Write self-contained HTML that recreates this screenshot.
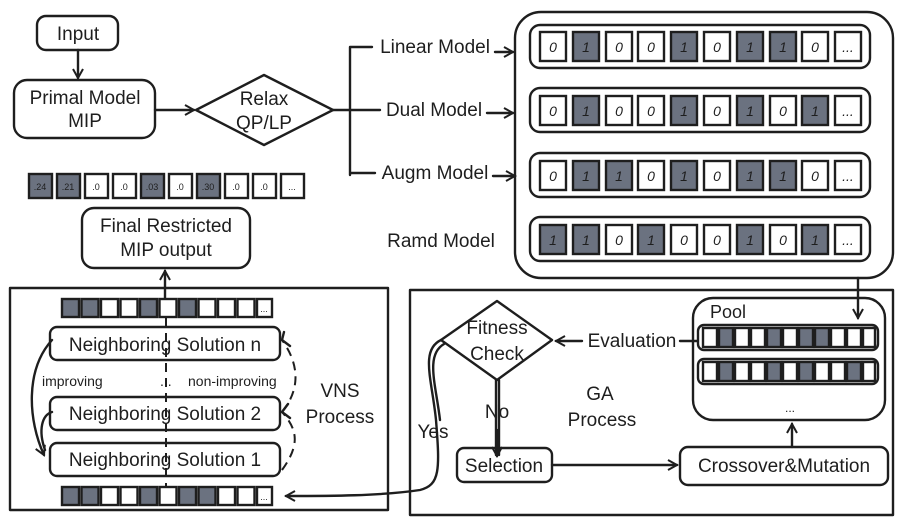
<!DOCTYPE html>
<html><head><meta charset="utf-8"><style>
html,body{margin:0;padding:0;background:#fff;}
svg{display:block;font-family:"Liberation Sans","DejaVu Sans",sans-serif;}
.s{fill:none;stroke:#1e1e1e;stroke-width:2.4;stroke-linecap:round;stroke-linejoin:round;}
.w{fill:#fff;stroke:#1e1e1e;stroke-width:2.4;}
.d{fill:#6b7280;stroke:#1e1e1e;stroke-width:2.4;}
text{fill:#1e1e1e;}
.t{font-size:19px;text-anchor:middle;}
.c{font-size:14px;text-anchor:middle;font-style:italic;}
.m{font-size:9px;text-anchor:middle;}
</style></head><body>
<svg width="904" height="525" viewBox="0 0 904 525" xmlns="http://www.w3.org/2000/svg">
<defs><marker id="a" markerWidth="12" markerHeight="12" refX="10" refY="6" orient="auto" markerUnits="userSpaceOnUse"><path d="M1,1 L10,6 L1,11" fill="none" stroke="#1e1e1e" stroke-width="2"/></marker></defs>

<!-- top left flow -->
<rect class="s" x="37" y="16" width="81" height="34" rx="9"/>
<text class="t" x="78" y="40">Input</text>
<line class="s" x1="78" y1="50" x2="78" y2="78" marker-end="url(#a)"/>
<rect class="s" x="14" y="80" width="141" height="58" rx="13"/>
<text class="t" x="85" y="104">Primal Model</text>
<text class="t" x="85" y="127">MIP</text>
<line class="s" x1="155" y1="110" x2="194" y2="110" marker-end="url(#a)"/>
<path class="s" d="M196,110 L264,75 L333,110 L264,145 Z"/>
<text class="t" x="264" y="105">Relax</text>
<text class="t" x="264" y="129">QP/LP</text>
<path class="s" d="M333,110 H350 M350,47 V175 M350,47 H372 M350,110 H380 M350,173 H375"/>
<text class="t" x="435" y="53">Linear Model</text>
<text class="t" x="434" y="116">Dual Model</text>
<text class="t" x="435" y="179">Augm Model</text>
<text class="t" x="441" y="247">Ramd Model</text>
<line class="s" x1="495" y1="52" x2="513" y2="52" marker-end="url(#a)"/>
<line class="s" x1="487" y1="113" x2="513" y2="113" marker-end="url(#a)"/>
<line class="s" x1="493" y1="176" x2="515" y2="176" marker-end="url(#a)"/>

<!-- big right box -->
<rect class="s" x="515" y="12" width="378" height="266" rx="26"/>
<rect class="s" x="530" y="25" width="340" height="43" rx="10"/>
<rect class="s" x="530" y="88" width="340" height="44" rx="10"/>
<rect class="s" x="530" y="153" width="340" height="44" rx="10"/>
<rect class="s" x="530" y="217" width="340" height="44" rx="10"/>
<g>
<!-- row1 0 1 0 0 1 0 1 1 0 -->
<rect class="w" x="540" y="32" width="26" height="29"/><text class="c" x="553" y="52">0</text>
<rect class="d" x="573" y="32" width="26" height="29"/><text class="c" x="586" y="52">1</text>
<rect class="w" x="606" y="32" width="26" height="29"/><text class="c" x="619" y="52">0</text>
<rect class="w" x="638" y="32" width="26" height="29"/><text class="c" x="651" y="52">0</text>
<rect class="d" x="671" y="32" width="26" height="29"/><text class="c" x="684" y="52">1</text>
<rect class="w" x="704" y="32" width="26" height="29"/><text class="c" x="717" y="52">0</text>
<rect class="d" x="737" y="32" width="26" height="29"/><text class="c" x="750" y="52">1</text>
<rect class="d" x="770" y="32" width="26" height="29"/><text class="c" x="783" y="52">1</text>
<rect class="w" x="802" y="32" width="26" height="29"/><text class="c" x="815" y="52">0</text>
<rect class="w" x="835" y="32" width="26" height="29"/><text class="c" x="848" y="52">...</text>
<!-- row2 0 1 0 0 1 0 1 0 1 -->
<rect class="w" x="540" y="96" width="26" height="29"/><text class="c" x="553" y="116">0</text>
<rect class="d" x="573" y="96" width="26" height="29"/><text class="c" x="586" y="116">1</text>
<rect class="w" x="606" y="96" width="26" height="29"/><text class="c" x="619" y="116">0</text>
<rect class="w" x="638" y="96" width="26" height="29"/><text class="c" x="651" y="116">0</text>
<rect class="d" x="671" y="96" width="26" height="29"/><text class="c" x="684" y="116">1</text>
<rect class="w" x="704" y="96" width="26" height="29"/><text class="c" x="717" y="116">0</text>
<rect class="d" x="737" y="96" width="26" height="29"/><text class="c" x="750" y="116">1</text>
<rect class="w" x="770" y="96" width="26" height="29"/><text class="c" x="783" y="116">0</text>
<rect class="d" x="802" y="96" width="26" height="29"/><text class="c" x="815" y="116">1</text>
<rect class="w" x="835" y="96" width="26" height="29"/><text class="c" x="848" y="116">...</text>
<!-- row3 0 1 1 0 1 0 1 1 0 -->
<rect class="w" x="540" y="161" width="26" height="29"/><text class="c" x="553" y="181">0</text>
<rect class="d" x="573" y="161" width="26" height="29"/><text class="c" x="586" y="181">1</text>
<rect class="d" x="606" y="161" width="26" height="29"/><text class="c" x="619" y="181">1</text>
<rect class="w" x="638" y="161" width="26" height="29"/><text class="c" x="651" y="181">0</text>
<rect class="d" x="671" y="161" width="26" height="29"/><text class="c" x="684" y="181">1</text>
<rect class="w" x="704" y="161" width="26" height="29"/><text class="c" x="717" y="181">0</text>
<rect class="d" x="737" y="161" width="26" height="29"/><text class="c" x="750" y="181">1</text>
<rect class="d" x="770" y="161" width="26" height="29"/><text class="c" x="783" y="181">1</text>
<rect class="w" x="802" y="161" width="26" height="29"/><text class="c" x="815" y="181">0</text>
<rect class="w" x="835" y="161" width="26" height="29"/><text class="c" x="848" y="181">...</text>
<!-- row4 1 1 0 1 0 0 1 0 1 -->
<rect class="d" x="540" y="225" width="26" height="29"/><text class="c" x="553" y="245">1</text>
<rect class="d" x="573" y="225" width="26" height="29"/><text class="c" x="586" y="245">1</text>
<rect class="w" x="606" y="225" width="26" height="29"/><text class="c" x="619" y="245">0</text>
<rect class="d" x="638" y="225" width="26" height="29"/><text class="c" x="651" y="245">1</text>
<rect class="w" x="671" y="225" width="26" height="29"/><text class="c" x="684" y="245">0</text>
<rect class="w" x="704" y="225" width="26" height="29"/><text class="c" x="717" y="245">0</text>
<rect class="d" x="737" y="225" width="26" height="29"/><text class="c" x="750" y="245">1</text>
<rect class="w" x="770" y="225" width="26" height="29"/><text class="c" x="783" y="245">0</text>
<rect class="d" x="802" y="225" width="26" height="29"/><text class="c" x="815" y="245">1</text>
<rect class="w" x="835" y="225" width="26" height="29"/><text class="c" x="848" y="245">...</text>
</g>

<!-- decimal row -->
<rect class="d" x="29" y="174" width="23" height="24"/><text class="m" x="40" y="190">.24</text>
<rect class="d" x="57" y="174" width="23" height="24"/><text class="m" x="68" y="190">.21</text>
<rect class="w" x="85" y="174" width="23" height="24"/><text class="m" x="96" y="190">.0</text>
<rect class="w" x="113" y="174" width="23" height="24"/><text class="m" x="124" y="190">.0</text>
<rect class="d" x="141" y="174" width="23" height="24"/><text class="m" x="152" y="190">.03</text>
<rect class="w" x="169" y="174" width="23" height="24"/><text class="m" x="180" y="190">.0</text>
<rect class="d" x="197" y="174" width="23" height="24"/><text class="m" x="208" y="190">.30</text>
<rect class="w" x="225" y="174" width="23" height="24"/><text class="m" x="236" y="190">.0</text>
<rect class="w" x="253" y="174" width="23" height="24"/><text class="m" x="264" y="190">.0</text>
<rect class="w" x="281" y="174" width="23" height="24"/><text class="m" x="292" y="190">...</text>

<rect class="s" x="82" y="208" width="168" height="60" rx="12"/>
<text class="t" x="166" y="232">Final Restricted</text>
<text class="t" x="166" y="256">MIP output</text>
<line class="s" x1="165" y1="300" x2="165" y2="271" marker-end="url(#a)"/>

<!-- VNS -->
<rect class="s" x="10" y="288" width="378" height="222"/>
<g>
<rect class="d" x="62" y="299" width="17" height="18"/><rect class="d" x="81.5" y="299" width="17" height="18"/>
<rect class="w" x="101" y="299" width="17" height="18"/><rect class="w" x="120.5" y="299" width="17" height="18"/>
<rect class="d" x="140" y="299" width="17" height="18"/><rect class="w" x="159.5" y="299" width="17" height="18"/>
<rect class="d" x="179" y="299" width="17" height="18"/><rect class="w" x="198.5" y="299" width="17" height="18"/>
<rect class="w" x="218" y="299" width="17" height="18"/><rect class="w" x="237.5" y="299" width="17" height="18"/>
<rect class="w" x="257" y="299" width="15" height="18"/><text class="m" x="264" y="312">...</text>
<rect class="d" x="62" y="487" width="17" height="18"/><rect class="d" x="81.5" y="487" width="17" height="18"/>
<rect class="w" x="101" y="487" width="17" height="18"/><rect class="w" x="120.5" y="487" width="17" height="18"/>
<rect class="d" x="140" y="487" width="17" height="18"/><rect class="w" x="159.5" y="487" width="17" height="18"/>
<rect class="d" x="179" y="487" width="17" height="18"/><rect class="d" x="198.5" y="487" width="17" height="18"/>
<rect class="w" x="218" y="487" width="17" height="18"/><rect class="w" x="237.5" y="487" width="17" height="18"/>
<rect class="w" x="257" y="487" width="15" height="18"/><text class="m" x="264" y="500">...</text>
</g>
<rect class="w" x="50" y="327" width="230" height="33" rx="7"/>
<rect class="w" x="50" y="397" width="230" height="33" rx="7"/>
<rect class="w" x="50" y="443" width="230" height="33" rx="7"/>
<line x1="166" y1="318" x2="166" y2="487" stroke="#1e1e1e" stroke-width="2" stroke-dasharray="9,6"/>
<text class="t" x="165" y="351">Neighboring Solution n</text>
<text class="t" x="165" y="420">Neighboring Solution 2</text>
<text class="t" x="165" y="466">Neighboring Solution 1</text>
<text x="42" y="386" font-size="14">improving</text>
<text x="160" y="386" font-size="14">...</text>
<text x="188" y="386" font-size="14">non-improving</text>
<text class="t" x="340" y="397">VNS</text>
<text class="t" x="340" y="423">Process</text>
<path class="s" d="M52,340 C25,370 28,420 44,455" marker-end="url(#a)"/>
<path class="s" d="M52,412 C42,415 38,430 45,450"/>
<path d="M282,470 C300,445 298,430 282,412 M282,412 C300,390 300,365 282,340" fill="none" stroke="#1e1e1e" stroke-width="2" stroke-dasharray="9,6"/>
<path class="s" d="M290,418 L282,412 L288,404 M290,346 L282,340 L284,332"/>

<!-- GA -->
<rect class="s" x="410" y="290" width="483" height="225"/>
<path class="s" d="M441,340 L497,301 L552,340 L497,380 Z"/>
<text class="t" x="497" y="334">Fitness</text>
<text class="t" x="497" y="360">Check</text>
<text class="t" x="632" y="347">Evaluation</text>
<line class="s" x1="680" y1="341" x2="697" y2="341"/>
<line class="s" x1="582" y1="341" x2="556" y2="341" marker-end="url(#a)"/>
<path class="s" d="M496,380 V455 M499,380 V455" />
<line class="s" x1="497" y1="430" x2="497" y2="456" marker-end="url(#a)"/>
<text class="t" x="497" y="418">No</text>
<text class="t" x="433" y="438">Yes</text>
<path class="s" d="M441,340 C420,350 432,380 436,420 C440,470 440,485 420,490 C380,496 330,496 286,496" marker-end="url(#a)"/>
<path class="s" d="M444,344 C425,355 436,385 440,420"/>
<text class="t" x="600" y="400">GA</text>
<text class="t" x="602" y="426">Process</text>
<rect class="s" x="457" y="448" width="95" height="34" rx="7"/>
<text class="t" x="504" y="472">Selection</text>
<line class="s" x1="552" y1="465" x2="677" y2="465" marker-end="url(#a)"/>
<rect class="s" x="680" y="447" width="208" height="38" rx="8"/>
<text class="t" x="784" y="472">Crossover&amp;Mutation</text>
<line class="s" x1="792" y1="447" x2="792" y2="424" marker-end="url(#a)"/>
<line class="s" x1="858" y1="278" x2="858" y2="318" marker-end="url(#a)"/>
<rect class="s" x="693" y="298" width="192" height="122" rx="20"/>
<text x="710" y="318" font-size="18">Pool</text>
<rect class="s" x="698" y="325" width="180" height="25" rx="6"/>
<rect class="s" x="698" y="359" width="180" height="25" rx="6"/>
<g>
<rect class="w" x="703" y="328" width="14" height="19"/><rect class="d" x="719" y="328" width="14" height="19"/><rect class="w" x="735" y="328" width="14" height="19"/><rect class="w" x="751" y="328" width="14" height="19"/><rect class="d" x="767" y="328" width="14" height="19"/><rect class="w" x="783" y="328" width="14" height="19"/><rect class="d" x="799" y="328" width="14" height="19"/><rect class="d" x="815" y="328" width="14" height="19"/><rect class="w" x="831" y="328" width="14" height="19"/><rect class="w" x="847" y="328" width="14" height="19"/><rect class="w" x="863" y="328" width="12" height="19"/>
<rect class="w" x="703" y="362" width="14" height="19"/><rect class="d" x="719" y="362" width="14" height="19"/><rect class="w" x="735" y="362" width="14" height="19"/><rect class="w" x="751" y="362" width="14" height="19"/><rect class="d" x="767" y="362" width="14" height="19"/><rect class="w" x="783" y="362" width="14" height="19"/><rect class="d" x="799" y="362" width="14" height="19"/><rect class="w" x="815" y="362" width="14" height="19"/><rect class="w" x="831" y="362" width="14" height="19"/><rect class="d" x="847" y="362" width="14" height="19"/><rect class="w" x="863" y="362" width="12" height="19"/>
</g>
<text x="790" y="412" font-size="12" text-anchor="middle">...</text>
</svg>
</body></html>
